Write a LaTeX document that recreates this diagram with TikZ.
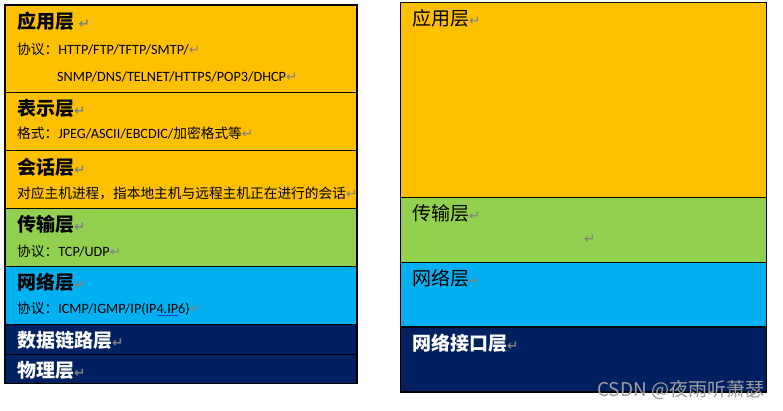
\documentclass[tikz,border=0pt]{standalone}
\usepackage{fontspec}
\usepackage{tikz}
\setmainfont{Carlito}
\newfontfamily\cjk{Noto Sans CJK SC}
\newfontfamily\markfont{DejaVu Sans}
\definecolor{appColor}{RGB}{255,192,0}
\definecolor{transColor}{RGB}{146,208,80}
\definecolor{netColor}{RGB}{0,176,240}
\definecolor{linkColor}{RGB}{0,32,96}
\definecolor{markColor}{RGB}{128,128,128}
\definecolor{spellColor}{RGB}{40,60,200}
\tikzstyle{osi} = [x = 1pt, y = -1pt]
\tikzstyle{layerStyle} = [draw=black, line width=1.2pt, anchor=north west, inner sep=0, outer sep=0]
\tikzstyle{titleText} = [anchor=west, inner sep=0, font=\cjk\bfseries\fontsize{19}{19}\selectfont]
\tikzstyle{plainTitle} = [anchor=west, inner sep=0, font=\cjk\fontsize{19}{19}\selectfont]
\tikzstyle{protoText} = [anchor=west, inner sep=0, font=\fontsize{14.2}{15}\selectfont]
\tikzstyle{waterText} = [anchor=west, inner sep=0, text=black!38, font=\cjk\fontsize{19}{19}\selectfont]
\newcommand{\pmark}{{\markfont\fontsize{13.5}{13.5}\selectfont\textcolor{markColor}{↵}}}
\newcommand{\zh}[1]{{\cjk\fontsize{13.7}{15}\selectfont #1}}
\newcommand{\layer}[6]{\node [layerStyle, fill=#2, minimum width=#5pt, minimum height=#6pt] (#1) at (#3,#4) {};}

\begin{document}
\begin{tikzpicture}[osi]
  \useasboundingbox [fill=white] (0,0) rectangle (783,411);

  % seven layers
  \layer{appL}{appColor}{5}{5}{352}{87.5}
  \layer{presL}{appColor}{5}{92.5}{352}{58.2}
  \layer{sessL}{appColor}{5}{150.7}{352}{57.6}
  \layer{transL}{transColor}{5}{208.3}{352}{58}
  \layer{netL}{netColor}{5}{266.3}{352}{58}
  \layer{linkL}{linkColor}{5}{324.3}{352}{30}
  \layer{physL}{linkColor}{5}{354.3}{352}{29}

  \node [titleText] (appLTitle) at (17,21) {应用层 \pmark};
  \node [protoText] (appLProto) at (17,49) {\zh{协议：}HTTP/FTP/TFTP/SMTP/\pmark};
  \node [protoText] (appLProtoB) at (57,77) {SNMP/DNS/TELNET/HTTPS/POP3/DHCP\pmark};
  \node [titleText] (presLTitle) at (17,108.5) {表示层\pmark};
  \node [protoText] (presLProto) at (17,133) {\zh{格式：}JPEG/ASCII/EBCDIC/\zh{加密格式等}\pmark};
  \node [titleText] (sessLTitle) at (17,167) {会话层\pmark};
  \node [protoText] (sessLProto) at (17,193) {\zh{对应主机进程，指本地主机与远程主机正在进行的会话}\pmark};
  \node [titleText] (transLTitle) at (17,224) {传输层\pmark};
  \node [protoText] (transLProto) at (17,251) {\zh{协议：}TCP/UDP\pmark};
  \node [titleText] (netLTitle) at (17,282) {网络层\pmark};
  \node [protoText] (netLProto) at (17,309) {\zh{协议：}ICMP/IGMP/IP(IP{\color{spellColor}\underline{\color{black}4.IP}}6)\pmark};
  \node [titleText, text=white] (linkLTitle) at (17,340) {数据链路层\pmark};
  \node [titleText, text=white] (physLTitle) at (17,370) {物理层\pmark};

  % four layers
  \layer{appR}{appColor}{400.3}{2.3}{366}{195}
  \layer{transR}{transColor}{400.3}{197.3}{366}{65}
  \layer{netR}{netColor}{400.3}{262.3}{366}{64.7}
  \layer{ifaceR}{linkColor}{400.3}{327}{366}{65}

  \node [plainTitle] (appRTitle) at (412,18.5) {应用层\pmark};
  \node [plainTitle] (transRTitle) at (412,213.5) {传输层\pmark};
  \node [anchor=west, inner sep=0] (transRMark) at (584,239) {\pmark};
  \node [plainTitle] (netRTitle) at (412,278) {网络层\pmark};
  \node [titleText, text=white] (ifaceRTitle) at (412,343) {网络接口层\pmark};

  \node [waterText] (waterMark) at (597,390) {CSDN @夜雨听萧瑟};
\end{tikzpicture}
\end{document}
